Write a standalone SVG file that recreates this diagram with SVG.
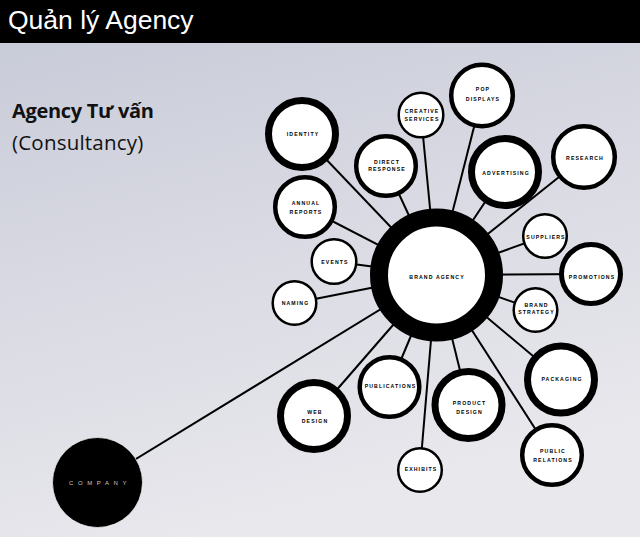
<svg xmlns="http://www.w3.org/2000/svg" width="640" height="537" viewBox="0 0 640 537">
<defs>
<linearGradient id="bg" x1="0" y1="0" x2="0.3" y2="1">
<stop offset="0" stop-color="#c6c9d7"/>
<stop offset="0.5" stop-color="#d8d9e2"/>
<stop offset="1" stop-color="#e8e8ed"/>
</linearGradient>
<style>
.n{fill:#fff;stroke:#000}
.k{stroke-width:7}
.m{stroke-width:4.5}
.t{stroke-width:2.5}
.lbl{font-family:"Liberation Sans",Arial,sans-serif;font-weight:bold;font-size:5.2px;letter-spacing:1.1px;fill:#000;text-anchor:middle}
#connectors line{stroke:#000;stroke-width:2}
</style>
</defs>
<rect width="640" height="537" fill="url(#bg)"/>
<rect width="640" height="43" fill="#000"/>
<text x="8" y="29" font-family="Liberation Sans,Arial,sans-serif" font-size="26.5" fill="#fff">Quản lý Agency</text>
<text x="12" y="118" font-family="Open Sans,Liberation Sans,sans-serif" font-weight="bold" font-size="20" fill="#111" letter-spacing="-0.3">Agency Tư vấn</text>
<text x="12" y="150" font-family="Open Sans,Liberation Sans,sans-serif" font-size="20.5" fill="#111" letter-spacing="0.2">(Consultancy)</text>

<g id="connectors">
<line x1="97.5" y1="482.5" x2="436.5" y2="275"/>
<line x1="302" y1="134" x2="436.5" y2="275"/>
<line x1="421" y1="115" x2="436.5" y2="275"/>
<line x1="386" y1="166" x2="436.5" y2="275"/>
<line x1="482" y1="95.5" x2="436.5" y2="275"/>
<line x1="505" y1="172" x2="436.5" y2="275"/>
<line x1="584" y1="157" x2="436.5" y2="275"/>
<line x1="305" y1="207" x2="436.5" y2="275"/>
<line x1="334" y1="261.5" x2="436.5" y2="275"/>
<line x1="294.5" y1="303" x2="436.5" y2="275"/>
<line x1="545" y1="236" x2="436.5" y2="275"/>
<line x1="591" y1="274" x2="436.5" y2="275"/>
<line x1="535.5" y1="310" x2="436.5" y2="275"/>
<line x1="561" y1="379.5" x2="436.5" y2="275"/>
<line x1="468.5" y1="405" x2="436.5" y2="275"/>
<line x1="552" y1="455" x2="436.5" y2="275"/>
<line x1="314" y1="416" x2="436.5" y2="275"/>
<line x1="389.5" y1="387" x2="436.5" y2="275"/>
<line x1="420" y1="470" x2="436.5" y2="275"/>
</g>

<g id="company">
<circle cx="97.5" cy="482.5" r="45" fill="#000" stroke="#fff" stroke-width="1" stroke-opacity="0.7"/>
<text x="100" y="484.5" font-family="Liberation Sans,Arial,sans-serif" font-size="6" letter-spacing="4.6" fill="#c8c8c8" text-anchor="middle">COMPANY</text>
</g>

<g id="brand-agency">
<circle class="n" cx="436.5" cy="275" r="57.5" stroke-width="18"/>
<text class="lbl" x="437" y="278.5">BRAND AGENCY</text>
</g>

<g id="identity">
<circle class="n k" cx="302" cy="134" r="33.5"/>
<text class="lbl" x="303" y="135.8">IDENTITY</text>
</g>
<g id="creative-services">
<circle class="n t" cx="421" cy="115" r="22.3"/>
<text class="lbl" x="422" y="112.5">CREATIVE</text>
<text class="lbl" x="422" y="121">SERVICES</text>
</g>
<g id="direct-response">
<circle class="n m" cx="386" cy="166" r="29.8"/>
<text class="lbl" x="387" y="164">DIRECT</text>
<text class="lbl" x="387" y="170.5">RESPONSE</text>
</g>
<g id="pop-displays">
<circle class="n m" cx="482" cy="95.5" r="30.8"/>
<text class="lbl" x="483" y="91">POP</text>
<text class="lbl" x="483" y="100.5">DISPLAYS</text>
</g>
<g id="advertising">
<circle class="n k" cx="505" cy="172" r="33.5"/>
<text class="lbl" x="506" y="174.5">ADVERTISING</text>
</g>
<g id="research">
<circle class="n m" cx="584" cy="157" r="30.8"/>
<text class="lbl" x="585" y="159.5">RESEARCH</text>
</g>
<g id="annual-reports">
<circle class="n m" cx="305" cy="207" r="29.8"/>
<text class="lbl" x="306" y="205">ANNUAL</text>
<text class="lbl" x="306" y="214">REPORTS</text>
</g>
<g id="events">
<circle class="n t" cx="334" cy="261.5" r="22.3"/>
<text class="lbl" x="335" y="264">EVENTS</text>
</g>
<g id="naming">
<circle class="n t" cx="294.5" cy="303" r="21.8"/>
<text class="lbl" x="295.5" y="304.5">NAMING</text>
</g>
<g id="suppliers">
<circle class="n t" cx="545" cy="236" r="21.8"/>
<text class="lbl" x="546" y="238.5">SUPPLIERS</text>
</g>
<g id="promotions">
<circle class="n" cx="591" cy="274" r="29.5" stroke-width="5"/>
<text class="lbl" x="592" y="278.5">PROMOTIONS</text>
</g>
<g id="brand-strategy">
<circle class="n t" cx="535.5" cy="310" r="21.8"/>
<text class="lbl" x="536.5" y="307">BRAND</text>
<text class="lbl" x="536.5" y="314">STRATEGY</text>
</g>
<g id="packaging">
<circle class="n k" cx="561" cy="379.5" r="33.5"/>
<text class="lbl" x="562" y="381">PACKAGING</text>
</g>
<g id="product-design">
<circle class="n k" cx="468.5" cy="405" r="33.5"/>
<text class="lbl" x="469.5" y="405">PRODUCT</text>
<text class="lbl" x="469.5" y="414">DESIGN</text>
</g>
<g id="public-relations">
<circle class="n m" cx="552" cy="455" r="29.8"/>
<text class="lbl" x="553" y="453">PUBLIC</text>
<text class="lbl" x="553" y="462">RELATIONS</text>
</g>
<g id="web-design">
<circle class="n k" cx="314" cy="416" r="33.5"/>
<text class="lbl" x="315" y="413.5">WEB</text>
<text class="lbl" x="315" y="422.5">DESIGN</text>
</g>
<g id="publications">
<circle class="n m" cx="389.5" cy="387" r="29.8"/>
<text class="lbl" x="390.5" y="387.5">PUBLICATIONS</text>
</g>
<g id="exhibits">
<circle class="n t" cx="420" cy="470" r="21.8"/>
<text class="lbl" x="421" y="471">EXHIBITS</text>
</g>
</svg>
